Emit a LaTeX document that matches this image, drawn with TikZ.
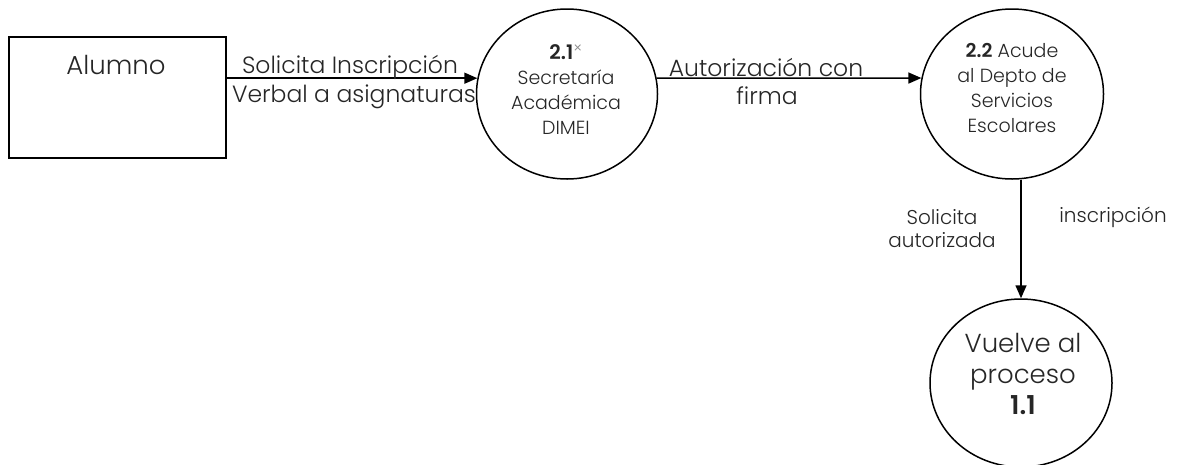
\documentclass[tikz,border=0pt]{standalone}
\usepackage{fontspec}
\setmainfont{Poppins}[UprightFont={* Light},BoldFont={* SemiBold}]
\usetikzlibrary{shapes.geometric,arrows.meta}
\begin{document}
\begin{tikzpicture}[x=1pt,y=-1pt,
  flow/.style={line width=1.5pt,-{Triangle[length=13pt,width=11pt]}},
  proc/.style={draw,line width=1.5pt,ellipse,inner sep=0pt},
  entity/.style={draw,line width=1.5pt,rectangle,inner sep=0pt,anchor=north west},
  lbl/.style={font=\fontsize{23.5}{27}\selectfont,text=black!85,inner sep=0pt,align=center},
  ename/.style={font=\fontsize{26}{30}\selectfont,text=black!85,inner sep=0pt,align=center},
  ptext/.style={font=\fontsize{19}{25}\selectfont,text=black!85,inner sep=0pt,align=center},
  small/.style={font=\fontsize{20}{23}\selectfont,text=black!85,inner sep=0pt,align=center},
  big/.style={font=\fontsize{26}{31}\selectfont,text=black!85,inner sep=0pt,align=center},
]
\useasboundingbox (0,0) rectangle (1177,464);

% external entity
\node[entity,minimum width=217pt,minimum height=121pt] (alumno) at (8,36) {};
\node[ename] (alumnot) at (116,65) {Alumno};

% processes
\node[proc,minimum width=181pt,minimum height=170pt] (p1) at (567,94) {};
\node[proc,minimum width=183pt,minimum height=170pt] (p2) at (1012,94) {};
\node[proc,minimum width=182pt,minimum height=168pt] (p3) at (1021,383) {};

\node[ptext] (t1) at (566,90) {{\fontsize{20}{25}\selectfont\textbf{2.1}}\textsuperscript{\color{black!45}\fontsize{15}{15}\selectfont ×}\\Secretaría\\Académica\\DIMEI};
\node[ptext] (t2) at (1012,88) {\textbf{2.2} Acude\\al Depto de\\Servicios\\Escolares};
\node[big] (t3) at (1023,374) {Vuelve al\\proceso\\\textbf{1.1}};

% data flows
\draw[flow] (alumno.east |- p1.170) -- (p1.170);
\draw[flow] (p1.10) -- (p2.170);
\draw[flow] (p2.south -| p3.north) -- (p3.north);

% flow labels
\node[lbl] (f1a) at (350,67) {Solicita Inscripción};
\node[lbl] (f1b) at (354,97) {Verbal a asignaturas};
\node[lbl] (f2a) at (766,67) {Autorización con};
\node[lbl] (f2b) at (767,96) {firma};
\node[small] (f3a) at (942,217) {Solicita};
\node[small] (f3b) at (942,240) {autorizada};
\node[small] (f3c) at (1113,217) {inscripción};
\end{tikzpicture}
\end{document}
